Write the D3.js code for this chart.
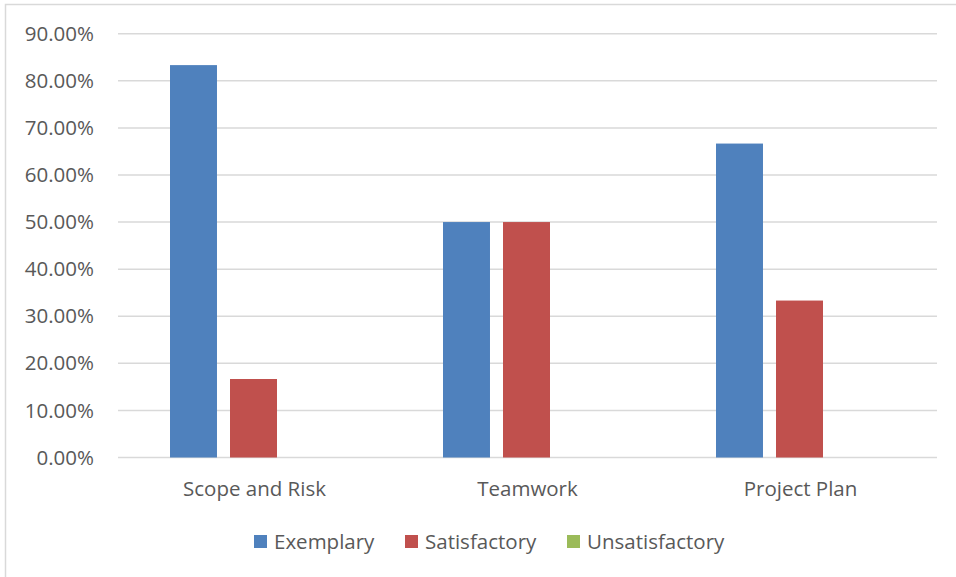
<!DOCTYPE html>
<html>
<head>
<meta charset="utf-8">
<script src="https://cdn.jsdelivr.net/npm/d3@7"></script>
<style>
  body { margin: 0; background: #fff; }
  svg { display: block; font-family: "Open Sans", "Noto Sans", sans-serif; }
</style>
</head>
<body>
<div id="app"></div>
<script>
const categories = ['Scope and Risk', 'Teamwork', 'Project Plan']
const seriesNames = ['Exemplary', 'Satisfactory', 'Unsatisfactory']
const exemplary = [0.8333, 0.5, 0.6667]
const satisfactory = [0.1667, 0.5, 0.3333]
const unsatisfactory = [0, 0, 0]
const yTicks = [0, 0.1, 0.2, 0.3, 0.4, 0.5, 0.6, 0.7, 0.8, 0.9]

const colors = ['#4f81bd', '#c0504d', '#9bbb59']
const seriesValues = [exemplary, satisfactory, unsatisfactory]

const width = 956
const height = 577
const plotLeft = 118, plotRight = 937, plotTop = 33.7, plotBottom = 457.5
const fontSize = 20.5

const svg = d3.select('#app').append('svg')
  .attr('width', width)
  .attr('height', height)

// chart border
svg.append('rect')
  .attr('x', 5.5).attr('y', 4.5)
  .attr('width', width + 10).attr('height', height + 10)
  .attr('fill', 'none')
  .attr('stroke', '#d9d9d9')
  .attr('stroke-width', 1.5)

const y = d3.scaleLinear().domain([0, 0.9]).range([plotBottom, plotTop])

const x0 = d3.scaleBand().domain(categories).range([plotLeft, plotRight])
const x1 = d3.scaleBand().domain(seriesNames)
  .range([x0.bandwidth() / 2 - 84.5, x0.bandwidth() / 2 + 82.5])
  .paddingInner(0.217)

// gridlines
svg.append('g')
  .selectAll('line')
  .data(yTicks)
  .enter()
  .append('line')
  .attr('x1', plotLeft).attr('x2', plotRight)
  .attr('y1', d => y(d)).attr('y2', d => y(d))
  .attr('stroke', '#d9d9d9')
  .attr('stroke-width', 1.5)

// y labels
svg.append('g')
  .selectAll('text')
  .data(yTicks)
  .enter()
  .append('text')
  .attr('x', 94)
  .attr('y', d => y(d))
  .attr('dy', '0.35em')
  .attr('text-anchor', 'end')
  .attr('fill', '#595959')
  .attr('font-size', fontSize)
  .text(d => d3.format('.2%')(d))

// bars
const groups = svg.append('g')
  .selectAll('g')
  .data(categories)
  .enter()
  .append('g')
  .attr('transform', d => `translate(${x0(d)},0)`)

groups.selectAll('rect')
  .data((c, i) => seriesNames.map((s, j) => ({ s: s, v: seriesValues[j][i], c: colors[j] })))
  .enter()
  .append('rect')
  .attr('x', d => x1(d.s))
  .attr('width', x1.bandwidth())
  .attr('y', d => y(d.v))
  .attr('height', d => plotBottom - y(d.v))
  .attr('fill', d => d.c)

// x labels
svg.append('g')
  .selectAll('text')
  .data(categories)
  .enter()
  .append('text')
  .attr('x', d => x0(d) + x0.bandwidth() / 2)
  .attr('y', 489)
  .attr('dy', '0.35em')
  .attr('text-anchor', 'middle')
  .attr('fill', '#595959')
  .attr('font-size', fontSize)
  .text(d => d)

// legend
const legendX = [254, 405, 567]
const legend = svg.append('g')
  .selectAll('g')
  .data(seriesNames)
  .enter()
  .append('g')
  .attr('transform', (d, i) => `translate(${legendX[i]},535)`)

legend.append('rect')
  .attr('width', 13).attr('height', 13)
  .attr('fill', (d, i) => colors[i])

legend.append('text')
  .attr('x', 20)
  .attr('y', 7)
  .attr('dy', '0.35em')
  .attr('fill', '#595959')
  .attr('font-size', fontSize)
  .text(d => d)
</script>
</body>
</html>
